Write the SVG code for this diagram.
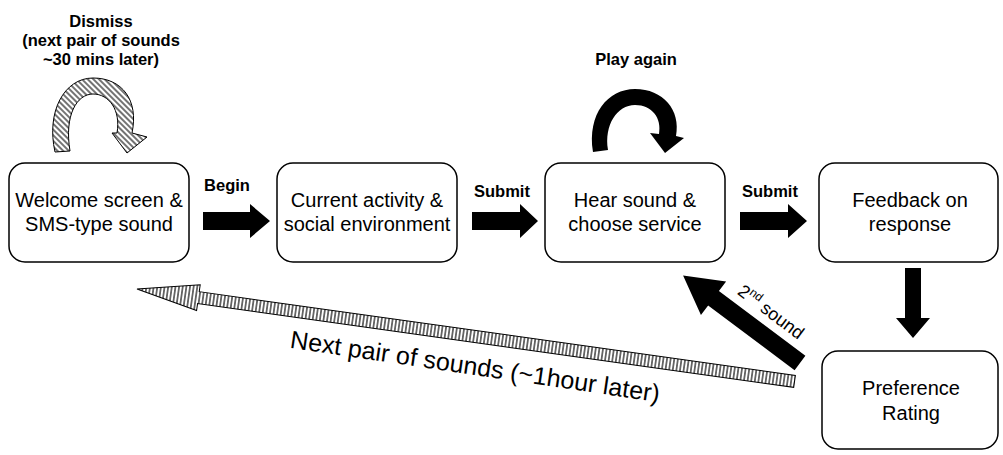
<svg xmlns="http://www.w3.org/2000/svg" width="1003" height="455" viewBox="0 0 1003 455">
  <defs>
    <!-- hatch fills for the loop-back arrows -->
    <pattern id="hatchDiag" patternUnits="userSpaceOnUse" width="4" height="4" patternTransform="rotate(-45)">
      <rect width="4" height="4" fill="#fff"/>
      <line x1="2" y1="0" x2="2" y2="4" stroke="#000" stroke-width="1.1"/>
    </pattern>
    <pattern id="hatchVert" patternUnits="userSpaceOnUse" width="3.6" height="4">
      <rect width="3.6" height="4" fill="#fff"/>
      <line x1="1.8" y1="0" x2="1.8" y2="4" stroke="#000" stroke-width="1.1"/>
    </pattern>
  </defs>
  <style>
    .box { fill: #fff; stroke: #000; stroke-width: 1.5; }
    .txt { font-family: "Liberation Sans", Arial, sans-serif; font-size: 20px; fill: #000; text-anchor: middle; }
    .lbl { font-family: "Liberation Sans", Arial, sans-serif; font-size: 16.5px; font-weight: bold; fill: #000; text-anchor: middle; }
    .solid { fill: #000; stroke: none; }
    .hatch { stroke: #000; stroke-width: 1; }
  </style>

  <rect width="1003" height="455" fill="#fff"/>

  <!-- nodes -->
  <g id="welcome">
    <rect class="box" x="9" y="163" width="180" height="99" rx="16"/>
    <text class="txt" x="99" y="207">Welcome screen &amp;</text>
    <text class="txt" x="99" y="231">SMS-type sound</text>
  </g>
  <g id="activity">
    <rect class="box" x="277" y="163" width="180" height="99" rx="16"/>
    <text class="txt" x="367" y="207">Current activity &amp;</text>
    <text class="txt" x="367" y="231">social environment</text>
  </g>
  <g id="hear">
    <rect class="box" x="545" y="163" width="180" height="99" rx="16"/>
    <text class="txt" x="635" y="207">Hear sound &amp;</text>
    <text class="txt" x="635" y="231">choose service</text>
  </g>
  <g id="feedback">
    <rect class="box" x="819" y="163" width="179" height="99" rx="16"/>
    <text class="txt" x="910" y="207">Feedback on</text>
    <text class="txt" x="910" y="231">response</text>
  </g>
  <g id="rating">
    <rect class="box" x="822" y="351" width="176" height="98" rx="16"/>
    <text class="txt" x="911" y="395">Preference</text>
    <text class="txt" x="911" y="420">Rating</text>
  </g>

  <!-- connectors -->
  <g id="connectors">
    <!-- Begin -->
    <polygon class="solid" points="203,212 250,212 250,204 270,221 250,238 250,230 203,230"/>
    <text class="lbl" x="227" y="191">Begin</text>
    <!-- Submit -->
    <polygon class="solid" points="472,212 520,212 520,204 538,221 520,238 520,230 472,230"/>
    <text class="lbl" x="502" y="197">Submit</text>
    <!-- Submit -->
    <polygon class="solid" points="740,212 788,212 788,204 807,221 788,238 788,230 740,230"/>
    <text class="lbl" x="770" y="197">Submit</text>
    <!-- feedback to rating -->
    <polygon class="solid" points="905,268 921,268 921,318 930,318 913,338 896,318 905,318"/>
    <!-- 2nd sound back to hear -->
    <g transform="translate(800,363) rotate(36.8)">
      <polygon class="solid" points="0,-9 -108,-9 -108,-21 -146,0 -108,21 -108,9 0,9"/>
    </g>
    <text class="txt" style="font-size:18px" transform="translate(771,312) rotate(37)" y="6">2<tspan font-size="12" dy="-7">nd</tspan><tspan dy="7"> sound</tspan></text>
    <!-- Play again loop -->
    <path class="solid" d="M593,152 C587,114 608,89 635,89 C663,89 681,110 676,136 L684,138 L665,153 L650,133 L659,134 C662,118 652,105 635,105 C617,105 604,125 608,150 Z"/>
    <text class="lbl" x="636" y="65">Play again</text>
    <!-- Dismiss loop -->
    <path class="hatch" fill="url(#hatchDiag)" d="M55,152 C46,112 64,78 93,78 C122,78 139,100 132,133 L147,137 L127,153 L112,133 L117,133 C121,110 109,94 93,94 C77,94 64,115 70,151 Z"/>
    <text class="lbl" x="101" y="27">Dismiss</text>
    <text class="lbl" x="101" y="46">(next pair of sounds</text>
    <text class="lbl" x="101" y="65">~30 mins later)</text>
    <!-- next pair of sounds loop -->
    <g transform="translate(137,289) rotate(8)">
      <polygon class="hatch" fill="url(#hatchVert)" points="0,0 62,-13 62,-6 664,-6 664,6 62,6 62,13"/>
    </g>
    <text class="txt" style="font-size:25px" transform="translate(475,367) rotate(8.4)" y="8">Next pair of sounds (~1hour later)</text>
  </g>
</svg>
